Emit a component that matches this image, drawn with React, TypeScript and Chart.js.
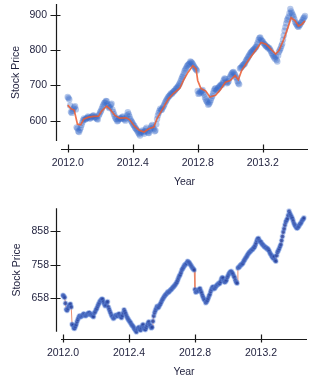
import React, { useEffect, useRef } from "react";
import { Chart, registerables } from "chart.js";

Chart.register(...registerables);

// Trading-day samples (decimal year) and closing prices
const years = [
  2012.00, 2012.01, 2012.02, 2012.03, 2012.04, 2012.05, 2012.06, 2012.07, 2012.08, 2012.09,
  2012.10, 2012.11, 2012.12, 2012.13, 2012.14, 2012.15, 2012.16, 2012.17, 2012.18, 2012.19,
  2012.20, 2012.21, 2012.22, 2012.23, 2012.24, 2012.25, 2012.26, 2012.27, 2012.28, 2012.29,
  2012.30, 2012.31, 2012.32, 2012.33, 2012.34, 2012.35, 2012.36, 2012.37, 2012.38, 2012.39,
  2012.40, 2012.41, 2012.42, 2012.43, 2012.44, 2012.45, 2012.46, 2012.47, 2012.48, 2012.49,
  2012.50, 2012.51, 2012.52, 2012.53, 2012.54, 2012.55, 2012.56, 2012.57, 2012.58, 2012.59,
  2012.60, 2012.61, 2012.62, 2012.63, 2012.64, 2012.65, 2012.66, 2012.67, 2012.68, 2012.69,
  2012.70, 2012.71, 2012.72, 2012.73, 2012.74, 2012.75, 2012.76, 2012.77, 2012.78, 2012.79,
  2012.80, 2012.81, 2012.82, 2012.83, 2012.84, 2012.85, 2012.86, 2012.87, 2012.88, 2012.89,
  2012.90, 2012.91, 2012.92, 2012.93, 2012.94, 2012.95, 2012.96, 2012.97, 2012.98, 2012.99,
  2013.00, 2013.01, 2013.02, 2013.03, 2013.04, 2013.05, 2013.06, 2013.07, 2013.08, 2013.09,
  2013.10, 2013.11, 2013.12, 2013.13, 2013.14, 2013.15, 2013.16, 2013.17, 2013.18, 2013.19,
  2013.20, 2013.21, 2013.22, 2013.23, 2013.24, 2013.25, 2013.26, 2013.27, 2013.28, 2013.29,
  2013.30, 2013.31, 2013.32, 2013.33, 2013.34, 2013.35, 2013.36, 2013.37, 2013.38, 2013.39,
  2013.40, 2013.41, 2013.42, 2013.43, 2013.44, 2013.45, 2013.46,
];

const prices = [
  667, 660, 625, 628, 638, 632, 578, 568, 580, 595,
  606, 604, 608, 610, 607, 612, 615, 611, 605, 614,
  624, 634, 645, 652, 655, 641, 638, 648, 625, 612,
  604, 600, 608, 605, 612, 603, 607, 624, 612, 600,
  592, 585, 577, 570, 562, 566, 572, 563, 576, 570,
  565, 578, 588, 576, 572, 605, 622, 634, 632, 641,
  652, 660, 668, 673, 676, 682, 686, 692, 698, 706,
  718, 728, 742, 750, 758, 762, 766, 760, 752, 745,
  684, 678, 680, 687, 674, 660, 652, 648, 658, 670,
  685, 692, 688, 695, 700, 702, 715, 718, 706, 712,
  725, 734, 738, 730, 720, 706, 748, 752, 758, 762,
  772, 780, 788, 795, 800, 804, 810, 822, 835, 830,
  825, 818, 812, 809, 806, 798, 788, 780, 782, 768,
  795, 805, 818, 842, 865, 885, 895, 917, 905, 895,
  880, 872, 866, 873, 880, 890, 897,
];

// In-between trading days (half a step later), also
const yearsMid = [
  2012.005, 2012.015, 2012.025, 2012.035, 2012.045, 2012.055, 2012.065, 2012.075, 2012.085, 2012.095,
  2012.105, 2012.115, 2012.125, 2012.135, 2012.145, 2012.155, 2012.165, 2012.175, 2012.185, 2012.195,
  2012.205, 2012.215, 2012.225, 2012.235, 2012.245, 2012.255, 2012.265, 2012.275, 2012.285, 2012.295,
  2012.305, 2012.315, 2012.325, 2012.335, 2012.345, 2012.355, 2012.365, 2012.375, 2012.385, 2012.395,
  2012.405, 2012.415, 2012.425, 2012.435, 2012.445, 2012.455, 2012.465, 2012.475, 2012.485, 2012.495,
  2012.505, 2012.515, 2012.525, 2012.535, 2012.545, 2012.555, 2012.565, 2012.575, 2012.585, 2012.595,
  2012.605, 2012.615, 2012.625, 2012.635, 2012.645, 2012.655, 2012.665, 2012.675, 2012.685, 2012.695,
  2012.705, 2012.715, 2012.725, 2012.735, 2012.745, 2012.755, 2012.765, 2012.775, 2012.785, 2012.795,
  2012.805, 2012.815, 2012.825, 2012.835, 2012.845, 2012.855, 2012.865, 2012.875, 2012.885, 2012.895,
  2012.905, 2012.915, 2012.925, 2012.935, 2012.945, 2012.955, 2012.965, 2012.975, 2012.985, 2012.995,
  2013.005, 2013.015, 2013.025, 2013.035, 2013.045, 2013.055, 2013.065, 2013.075, 2013.085, 2013.095,
  2013.105, 2013.115, 2013.125, 2013.135, 2013.145, 2013.155, 2013.165, 2013.175, 2013.185, 2013.195,
  2013.205, 2013.215, 2013.225, 2013.235, 2013.245, 2013.255, 2013.265, 2013.275, 2013.285, 2013.295,
  2013.305, 2013.315, 2013.325, 2013.335, 2013.345, 2013.355, 2013.365, 2013.375, 2013.385, 2013.395,
  2013.405, 2013.415, 2013.425, 2013.435, 2013.445, 2013.455,
];

const pricesMid = [
  664, 643, 622, 634, 641, 581, 570, 574, 588, 601,
  603, 606, 612, 606, 610, 614, 609, 608, 603, 618,
  628, 640, 650, 656, 647, 636, 645, 632, 618, 606,
  598, 604, 606, 610, 606, 600, 615, 618, 605, 596,
  588, 580, 574, 566, 558, 569, 567, 570, 580, 566,
  572, 584, 580, 570, 590, 615, 628, 630, 637, 646,
  656, 664, 670, 677, 679, 684, 690, 695, 702, 712,
  724, 735, 746, 755, 760, 768, 764, 756, 748, 742,
  676, 682, 684, 680, 666, 655, 645, 652, 665, 678,
  690, 686, 692, 698, 703, 708, 720, 710, 708, 720,
  730, 737, 734, 724, 712, 703, 750, 756, 760, 768,
  776, 784, 792, 797, 802, 808, 816, 830, 836, 826,
  820, 815, 810, 805, 802, 792, 784, 776, 772, 785,
  800, 812, 830, 855, 876, 890, 905, 910, 900, 888,
  876, 868, 870, 878, 885, 893,
];

// Smoothed (red) trend in the upper panel
const trendYears = [
  2012.00, 2012.02, 2012.04, 2012.06, 2012.08, 2012.10, 2012.13, 2012.16, 2012.19, 2012.21,
  2012.24, 2012.26, 2012.29, 2012.32, 2012.36, 2012.38, 2012.41, 2012.44, 2012.47, 2012.50,
  2012.53, 2012.55, 2012.58, 2012.62, 2012.65, 2012.69, 2012.71, 2012.74, 2012.77, 2012.79,
  2012.80, 2012.82, 2012.85, 2012.875, 2012.91, 2012.94, 2012.97, 2013.00, 2013.03, 2013.05,
  2013.07, 2013.11, 2013.14, 2013.17, 2013.19, 2013.22, 2013.24, 2013.28, 2013.30, 2013.33,
  2013.355, 2013.375, 2013.40, 2013.42, 2013.44, 2013.46,
];
const trendValues = [
  644, 634, 630, 590, 588, 605, 610, 612, 613, 628,
  641, 633, 615, 607, 608, 603, 585, 573, 568, 577,
  582, 606, 630, 662, 677, 692, 712, 737, 756, 747,
  714, 691, 684, 667, 672, 688, 709, 714, 728, 716,
  742, 770, 789, 808, 822, 817, 808, 789, 799, 831,
  864, 892, 883, 869, 873, 883,
];

const xTicks = [2012.0, 2012.4, 2012.8, 2013.2];
const yTicksTop = [600, 700, 800, 900];
const yTicksBottom = [658, 758, 858];

const FONT = { family: "'Liberation Sans', Arial, sans-serif", size: 10.5 };
const TEXT = "#1e1f3c";

const detachedAxes = {
  id: "detachedAxes",
  afterDraw(chart: any, _args: any, opts: any) {
    const { ctx, chartArea: a } = chart;
    const x = chart.scales.x;
    const y = chart.scales.y;
    const ax = Math.round(a.left - opts.yGap) + 0.5;
    const ay = Math.round(a.bottom + opts.xGap) + 0.5;
    ctx.save();
    ctx.strokeStyle = "#1a1a1a";
    ctx.lineWidth = 1.2;
    ctx.beginPath();
    ctx.moveTo(ax, a.top);
    ctx.lineTo(ax, a.bottom);
    ctx.moveTo(a.left, ay);
    ctx.lineTo(a.right, ay);
    y.ticks.forEach((t: any) => {
      const py = Math.round(y.getPixelForValue(t.value)) + 0.5;
      ctx.moveTo(ax - 6, py);
      ctx.lineTo(ax + 4, py);
    });
    x.ticks.forEach((t: any) => {
      const px = Math.round(x.getPixelForValue(t.value)) + 0.5;
      ctx.moveTo(px, ay - 5);
      ctx.lineTo(px, ay + 3);
    });
    ctx.stroke();
    ctx.restore();
  },
};

function scalesFor(p: any) {
  return {
    x: {
      type: "linear",
      min: p.xMin,
      max: p.xMax,
      afterBuildTicks: (s: any) => {
        s.ticks = xTicks.map((v) => ({ value: v }));
      },
      afterFit: (s: any) => {
        s.height = p.xHeight;
        s.paddingLeft = 0;
        s.paddingRight = 0;
      },
      grid: { display: false, drawTicks: false },
      border: { display: false },
      ticks: {
        font: FONT,
        color: TEXT,
        padding: p.xTickPad,
        maxRotation: 0,
        autoSkip: false,
        callback: (v: any) => Number(v).toFixed(1),
      },
      title: {
        display: true,
        text: "Year",
        font: FONT,
        color: TEXT,
        padding: { top: 0, bottom: p.xTitlePad },
      },
    },
    y: {
      type: "linear",
      min: p.yMin,
      max: p.yMax,
      afterBuildTicks: (s: any) => {
        s.ticks = p.yTicks.map((v: number) => ({ value: v }));
      },
      afterFit: (s: any) => {
        s.width = 61;
        s.paddingTop = 0;
        s.paddingBottom = 0;
      },
      grid: { display: false, drawTicks: false },
      border: { display: false },
      ticks: {
        font: FONT,
        color: TEXT,
        padding: p.yTickPad,
        autoSkip: false,
        callback: (v: any) => String(v),
      },
      title: {
        display: true,
        text: "Stock Price",
        font: FONT,
        color: TEXT,
        padding: { top: p.yTitlePad, bottom: 0 },
      },
    },
  };
}

const points = years
  .map((yr, i) => ({ x: yr, y: prices[i] }))
  .concat(yearsMid.map((yr, i) => ({ x: yr, y: pricesMid[i] })))
  .sort((a, b) => a.x - b.x);
const trend = trendYears.map((yr, i) => ({ x: yr, y: trendValues[i] }));

export default function App() {
  const topRef = useRef<HTMLCanvasElement>(null);
  const botRef = useRef<HTMLCanvasElement>(null);

  useEffect(() => {
    const common = {
      responsive: false,
      maintainAspectRatio: false,
      animation: false,
      devicePixelRatio: 1,
      plugins: { legend: { display: false }, tooltip: { enabled: false } },
      events: [],
    };

    const top = new Chart(topRef.current as HTMLCanvasElement, {
      type: "scatter",
      data: {
        datasets: [
          {
            type: "line",
            data: trend,
            borderColor: "rgba(236,92,48,0.85)",
            borderWidth: 1.7,
            pointRadius: 0,
            tension: 0,
            order: 0,
            clip: false,
          },
          {
            data: points,
            backgroundColor: "rgba(55,105,200,0.36)",
            borderWidth: 0,
            pointRadius: 3.2,
            order: 1,
            clip: false,
          },
        ],
      } as any,
      options: {
        ...common,
        layout: { padding: { top: 3, right: 18, left: 0, bottom: 0 } },
        scales: scalesFor({
          xMin: 2011.9588, xMax: 2013.4788, xHeight: 54, xTickPad: 15.7, xTitlePad: 6.7,
          yMin: 542.3, yMax: 931, yTicks: yTicksTop, yTickPad: 14, yTitlePad: 10,
        }),
        plugins: {
          ...common.plugins,
          detachedAxes: { xGap: 8, yGap: 5 },
        },
      } as any,
      plugins: [detachedAxes],
    });

    const bot = new Chart(botRef.current as HTMLCanvasElement, {
      type: "line",
      data: {
        datasets: [
          {
            data: points,
            borderColor: "rgba(232,125,90,0.85)",
            borderWidth: 1,
            pointRadius: 2,
            pointBackgroundColor: "rgba(40,65,155,0.85)",
            pointBorderColor: "rgba(100,140,220,0.4)",
            pointBorderWidth: 1.6,
            tension: 0,
            clip: false,
          },
        ],
      } as any,
      options: {
        ...common,
        layout: { padding: { top: 13.3, right: 19, left: 0, bottom: 0 } },
        scales: scalesFor({
          xMin: 2011.9879, xMax: 2013.4788, xHeight: 57.3, xTickPad: 15, xTitlePad: 11,
          yMin: 558.7, yMax: 925.5, yTicks: yTicksBottom, yTickPad: 12, yTitlePad: 11,
        }),
        plugins: {
          ...common.plugins,
          detachedAxes: { xGap: 7.3, yGap: 5 },
        },
      } as any,
      plugins: [detachedAxes],
    });

    return () => {
      top.destroy();
      bot.destroy();
    };
  }, []);

  return (
    <div style={{ position: "fixed", left: 0, top: 0, width: 326, height: 389, background: "#fff" }}>
      <canvas ref={topRef} width={326} height={195} style={{ position: "absolute", left: 0, top: 0, width: 326, height: 195 }} />
      <canvas ref={botRef} width={326} height={194} style={{ position: "absolute", left: 0, top: 195, width: 326, height: 194 }} />
    </div>
  );
}
